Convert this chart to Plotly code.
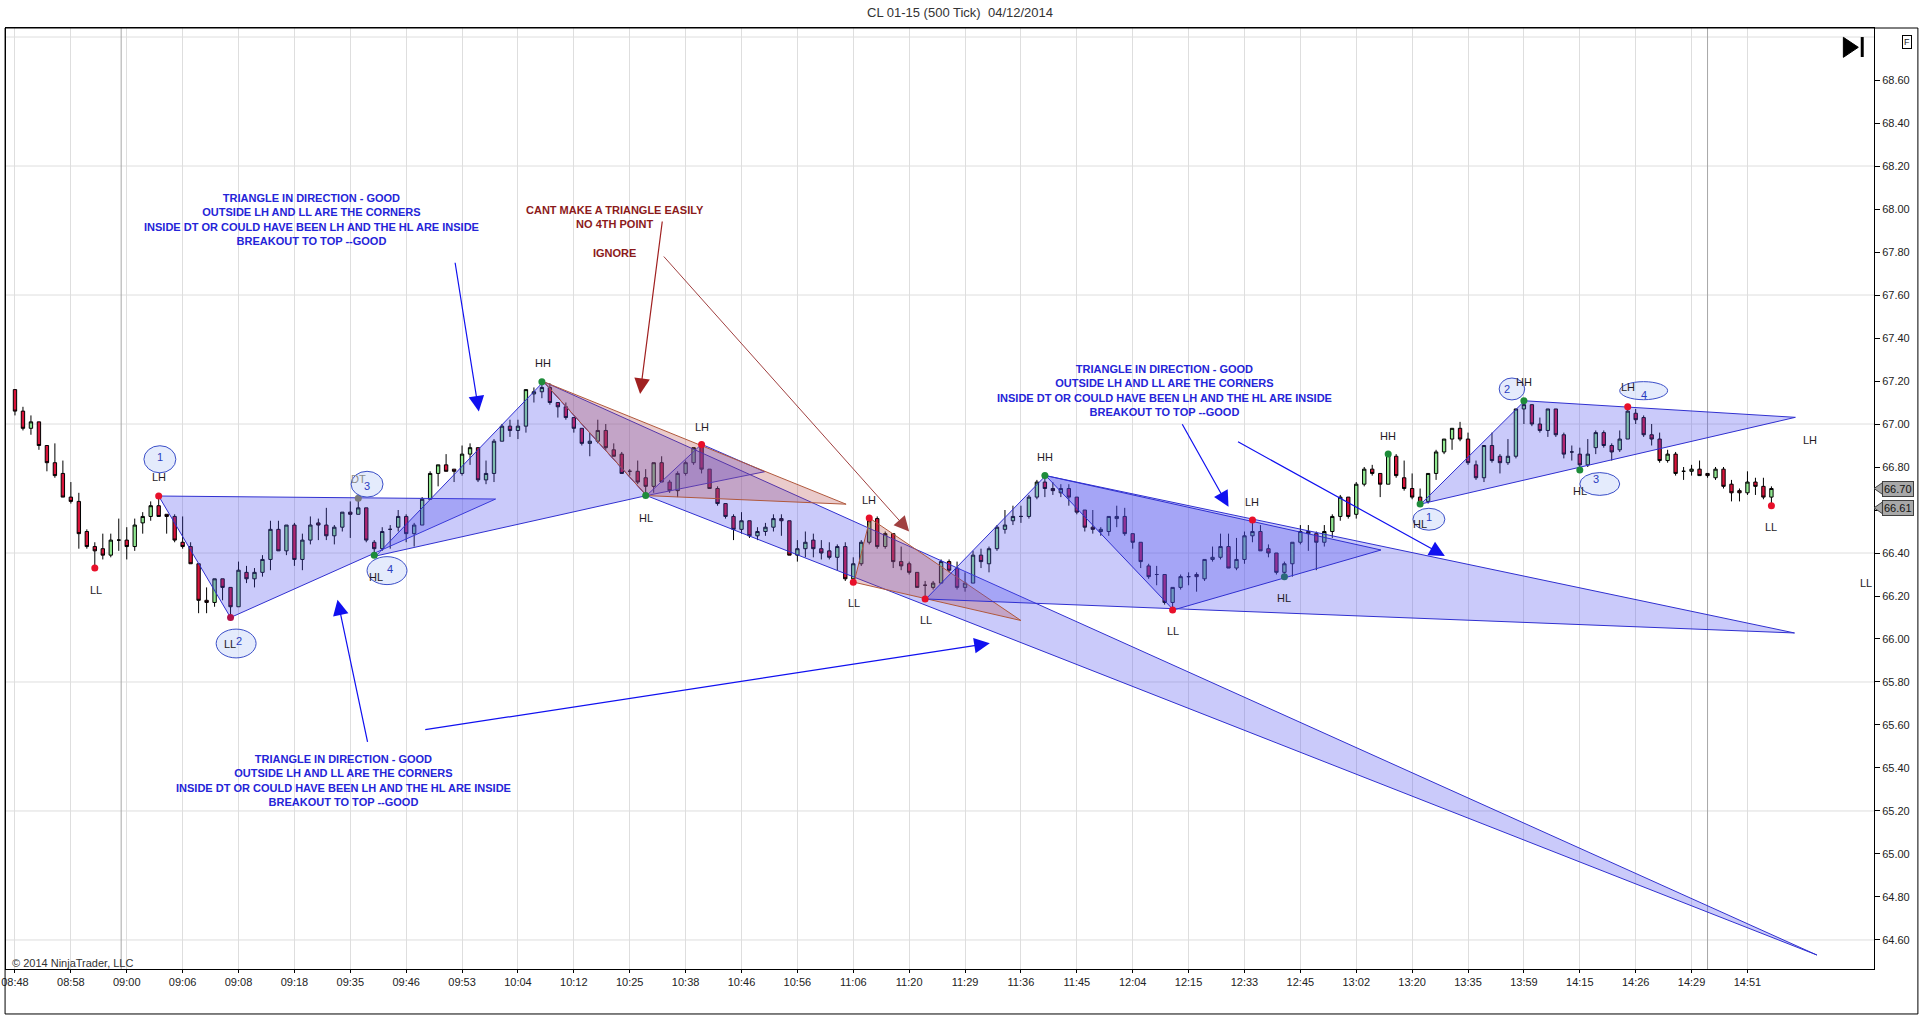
import plotly.graph_objects as go

# --- candles (500 tick bars, index 0..220) ---
OPEN = [67.16, 67.06, 66.98, 67.01, 66.90, 66.82, 66.77, 66.66, 66.64, 66.50,
        66.43, 66.42, 66.39, 66.46, 66.46, 66.43, 66.54, 66.57, 66.62, 66.58,
        66.57, 66.45, 66.43, 66.35, 66.18, 66.17, 66.28, 66.24, 66.15, 66.31,
        66.28, 66.31, 66.37, 66.51, 66.41, 66.53, 66.37, 66.46, 66.54, 66.53,
        66.48, 66.52, 66.59, 66.58, 66.61, 66.45, 66.42, 66.51, 66.52, 66.57,
        66.49, 66.53, 66.65, 66.77, 66.81, 66.79, 66.77, 66.86, 66.89, 66.74,
        66.77, 66.92, 66.99, 66.97, 66.99, 67.14, 67.15, 67.17, 67.10, 67.08,
        67.03, 66.98, 66.91, 66.92, 66.97, 66.88, 66.86, 66.78, 66.78, 66.75,
        66.71, 66.82, 66.73, 66.69, 66.77, 66.82, 66.90, 66.79, 66.70, 66.63,
        66.57, 66.51, 66.55, 66.48, 66.50, 66.52, 66.56, 66.55, 66.39, 66.42,
        66.46, 66.42, 66.41, 66.38, 66.43, 66.28, 66.35, 66.45, 66.56, 66.43,
        66.49, 66.36, 66.35, 66.31, 66.25, 66.24, 66.26, 66.36, 66.33, 66.24,
        66.26, 66.39, 66.35, 66.42, 66.51, 66.55, 66.57, 66.57, 66.66, 66.73,
        66.70, 66.68, 66.70, 66.66, 66.60, 66.52, 66.50, 66.50, 66.56, 66.57,
        66.49, 66.45, 66.34, 66.30, 66.30, 66.17, 66.24, 66.29, 66.30, 66.28,
        66.37, 66.38, 66.43, 66.33, 66.37, 66.48, 66.50, 66.42, 66.40, 66.31,
        66.35, 66.45, 66.50, 66.49, 66.45, 66.50, 66.57, 66.66, 66.58, 66.72,
        66.79, 66.77, 66.72, 66.85, 66.75, 66.70, 66.66, 66.64, 66.77, 66.87,
        66.93, 66.98, 66.93, 66.81, 66.75, 66.90, 66.85, 66.82, 66.85, 67.07,
        67.09, 67.00, 66.97, 67.07, 66.95, 66.87, 66.86, 66.81, 66.89, 66.96,
        66.90, 66.88, 66.93, 67.05, 67.03, 66.95, 66.93, 66.83, 66.86, 66.78,
        66.78, 66.79, 66.77, 66.75, 66.79, 66.72, 66.69, 66.68, 66.73, 66.71,
        66.66]
HIGH = [67.16, 67.08, 67.04, 67.01, 66.90, 66.91, 66.83, 66.73, 66.68, 66.51,
        66.45, 66.49, 66.49, 66.56, 66.52, 66.56, 66.59, 66.64, 66.67, 66.58,
        66.58, 66.57, 66.45, 66.35, 66.24, 66.28, 66.28, 66.24, 66.36, 66.34,
        66.33, 66.39, 66.55, 66.55, 66.53, 66.54, 66.49, 66.57, 66.56, 66.61,
        66.53, 66.59, 66.64, 66.66, 66.61, 66.46, 66.52, 66.53, 66.60, 66.58,
        66.54, 66.66, 66.78, 66.81, 66.86, 66.79, 66.90, 66.91, 66.89, 66.83,
        66.93, 67.00, 67.02, 67.02, 67.16, 67.17, 67.20, 67.19, 67.10, 67.10,
        67.03, 66.98, 66.96, 67.02, 67.00, 66.91, 66.87, 66.79, 66.83, 66.79,
        66.82, 66.85, 66.74, 66.78, 66.83, 66.89, 66.91, 66.79, 66.71, 66.63,
        66.58, 66.59, 66.55, 66.52, 66.54, 66.58, 66.58, 66.55, 66.46, 66.50,
        66.49, 66.46, 66.45, 66.44, 66.45, 66.38, 66.46, 66.57, 66.57, 66.50,
        66.49, 66.43, 66.36, 66.31, 66.27, 66.27, 66.37, 66.37, 66.36, 66.31,
        66.41, 66.42, 66.43, 66.53, 66.60, 66.62, 66.62, 66.67, 66.74, 66.76,
        66.73, 66.72, 66.72, 66.66, 66.60, 66.60, 66.52, 66.57, 66.62, 66.61,
        66.49, 66.45, 66.35, 66.34, 66.30, 66.24, 66.30, 66.31, 66.31, 66.37,
        66.43, 66.49, 66.49, 66.47, 66.50, 66.55, 66.53, 66.44, 66.40, 66.36,
        66.45, 66.53, 66.53, 66.50, 66.53, 66.58, 66.67, 66.66, 66.73, 66.80,
        66.81, 66.77, 66.86, 66.86, 66.83, 66.77, 66.70, 66.77, 66.88, 66.93,
        66.98, 67.01, 66.96, 66.83, 66.90, 66.96, 66.86, 66.93, 67.07, 67.11,
        67.09, 67.03, 67.07, 67.07, 66.96, 66.90, 66.89, 66.93, 66.97, 66.97,
        66.91, 66.97, 67.08, 67.07, 67.04, 67.00, 66.96, 66.88, 66.87, 66.80,
        66.81, 66.83, 66.77, 66.80, 66.80, 66.74, 66.70, 66.78, 66.75, 66.75,
        66.71]
LOW = [67.04, 66.97, 66.95, 66.88, 66.78, 66.75, 66.66, 66.63, 66.42, 66.42,
       66.33, 66.37, 66.38, 66.41, 66.37, 66.41, 66.49, 66.55, 66.57, 66.49,
       66.45, 66.42, 66.35, 66.12, 66.12, 66.15, 66.18, 66.10, 66.15, 66.26,
       66.24, 66.29, 66.32, 66.41, 66.39, 66.34, 66.32, 66.44, 66.46, 66.46,
       66.44, 66.50, 66.47, 66.58, 66.45, 66.39, 66.41, 66.42, 66.50, 66.45,
       66.43, 66.53, 66.65, 66.71, 66.78, 66.73, 66.76, 66.81, 66.73, 66.72,
       66.73, 66.92, 66.94, 66.93, 66.96, 67.10, 67.12, 67.09, 67.03, 67.02,
       66.96, 66.90, 66.85, 66.91, 66.88, 66.85, 66.77, 66.76, 66.72, 66.67,
       66.68, 66.73, 66.68, 66.66, 66.76, 66.81, 66.77, 66.70, 66.62, 66.56,
       66.46, 66.49, 66.47, 66.46, 66.48, 66.50, 66.48, 66.39, 66.36, 66.38,
       66.38, 66.37, 66.37, 66.32, 66.27, 66.26, 66.34, 66.44, 66.42, 66.42,
       66.33, 66.32, 66.30, 66.24, 66.19, 66.23, 66.26, 66.31, 66.23, 66.22,
       66.26, 66.33, 66.31, 66.41, 66.49, 66.53, 66.54, 66.56, 66.65, 66.66,
       66.67, 66.66, 66.62, 66.58, 66.50, 66.49, 66.48, 66.48, 66.52, 66.48,
       66.42, 66.33, 66.28, 66.25, 66.16, 66.14, 66.23, 66.25, 66.22, 66.27,
       66.36, 66.37, 66.33, 66.32, 66.35, 66.45, 66.41, 66.38, 66.30, 66.29,
       66.29, 66.44, 66.41, 66.32, 66.43, 66.47, 66.55, 66.56, 66.56, 66.71,
       66.76, 66.66, 66.72, 66.75, 66.69, 66.65, 66.63, 66.63, 66.74, 66.86,
       66.88, 66.92, 66.81, 66.74, 66.73, 66.82, 66.77, 66.81, 66.84, 67.00,
       66.99, 66.96, 66.94, 66.94, 66.84, 66.83, 66.79, 66.80, 66.86, 66.89,
       66.83, 66.87, 66.93, 67.00, 66.94, 66.90, 66.82, 66.82, 66.76, 66.74,
       66.76, 66.76, 66.75, 66.74, 66.70, 66.64, 66.64, 66.67, 66.67, 66.65,
       66.62]
CLOSE = [67.06, 66.98, 67.01, 66.90, 66.82, 66.76, 66.66, 66.64, 66.49, 66.43,
         66.41, 66.39, 66.46, 66.46, 66.43, 66.53, 66.57, 66.62, 66.57, 66.57,
         66.46, 66.43, 66.35, 66.18, 66.17, 66.28, 66.24, 66.15, 66.32, 66.28,
         66.31, 66.37, 66.51, 66.41, 66.53, 66.37, 66.46, 66.53, 66.53, 66.48,
         66.52, 66.59, 66.58, 66.61, 66.46, 66.42, 66.50, 66.51, 66.57, 66.49,
         66.53, 66.65, 66.77, 66.81, 66.78, 66.78, 66.86, 66.89, 66.74, 66.77,
         66.92, 66.99, 66.97, 66.99, 67.16, 67.15, 67.17, 67.10, 67.08, 67.03,
         66.98, 66.91, 66.92, 66.97, 66.89, 66.85, 66.77, 66.78, 66.73, 66.71,
         66.82, 66.73, 66.69, 66.77, 66.82, 66.89, 66.79, 66.70, 66.63, 66.57,
         66.51, 66.55, 66.48, 66.50, 66.52, 66.56, 66.55, 66.39, 66.42, 66.45,
         66.42, 66.40, 66.38, 66.43, 66.28, 66.35, 66.45, 66.55, 66.43, 66.49,
         66.36, 66.34, 66.31, 66.24, 66.25, 66.26, 66.36, 66.32, 66.24, 66.26,
         66.39, 66.36, 66.42, 66.52, 66.53, 66.57, 66.57, 66.66, 66.73, 66.70,
         66.69, 66.70, 66.66, 66.59, 66.52, 66.51, 66.51, 66.57, 66.57, 66.49,
         66.45, 66.36, 66.29, 66.30, 66.17, 66.24, 66.29, 66.29, 66.29, 66.37,
         66.38, 66.43, 66.33, 66.37, 66.48, 66.50, 66.41, 66.40, 66.31, 66.35,
         66.45, 66.50, 66.49, 66.45, 66.50, 66.57, 66.66, 66.57, 66.72, 66.79,
         66.77, 66.72, 66.86, 66.76, 66.70, 66.66, 66.63, 66.77, 66.87, 66.93,
         66.98, 66.93, 66.82, 66.75, 66.90, 66.83, 66.82, 66.85, 67.07, 67.09,
         67.00, 66.97, 67.07, 66.95, 66.86, 66.87, 66.81, 66.86, 66.96, 66.90,
         66.87, 66.93, 67.06, 67.02, 66.95, 66.93, 66.83, 66.86, 66.77, 66.78,
         66.79, 66.76, 66.76, 66.79, 66.71, 66.68, 66.68, 66.73, 66.71, 66.66,
         66.70]

TIME_LABELS = ["08:48", "08:58", "09:00", "09:06", "09:08", "09:18", "09:35", "09:46",
               "09:53", "10:04", "10:12", "10:25", "10:38", "10:46", "10:56", "11:06",
               "11:20", "11:29", "11:36", "11:45", "12:04", "12:15", "12:33", "12:45",
               "13:02", "13:20", "13:35", "13:59", "14:15", "14:26", "14:29", "14:51"]
BARS_PER_LABEL = 7
PRICE_TICKS = [64.6, 64.8, 65.0, 65.2, 65.4, 65.6, 65.8, 66.0, 66.2, 66.4, 66.6,
               66.8, 67.0, 67.2, 67.4, 67.6, 67.8, 68.0, 68.2, 68.4, 68.6]
GRID_PRICES = [64.6, 65.2, 65.8, 66.4, 67.0, 67.6, 68.2, 68.8]
SESSION_BARS = [13.3, 212.0]

# --- swing points ---
PIVOT_BARS = [10, 18, 27, 43, 45, 66, 79, 86, 105, 107, 114, 129, 145, 155, 159,
              172, 176, 189, 196, 202, 220]
PIVOT_PRICES = [66.33, 66.665, 66.10, 66.655, 66.39, 67.197, 66.667, 66.905, 66.264,
                66.563, 66.186, 66.76, 66.135, 66.553, 66.29, 66.86, 66.628, 67.108,
                66.786, 67.08, 66.62]
PIVOT_KIND = ["lo", "hi", "ll2", "dt", "up", "up", "up", "hi", "lo", "hi", "lo", "up",
              "lo", "hi", "teal", "up", "up", "up", "up", "hi", "lo"]

LABEL_TEXT = ["LL", "LH", "HL", "HH", "LH", "HL", "LH", "LL", "LL", "HH", "LL", "LH",
              "HL", "HH", "HL", "HH", "HL", "LH", "LH", "LL", "LL"]
LABEL_BARS = [10.1, 18.1, 45.2, 66.1, 86.1, 79.1, 107.0, 105.1, 114.1, 129.0, 145.0,
              155.0, 159.0, 172.0, 176.0, 189.0, 196.0, 202.0, 224.8, 220.0, 231.9]
LABEL_PRICES = [66.228, 66.755, 66.287, 67.285, 66.988, 66.564, 66.647, 66.169, 66.088,
                66.848, 66.039, 66.639, 66.189, 66.944, 66.535, 67.197, 66.69, 67.171,
                66.926, 66.522, 66.26]

# --- triangles drawn on the chart (bar, price) ---
TRIANGLES = [
    [(18.0, 66.665), (27.0, 66.10), (60.2, 66.651)],
    [(45.2, 66.386), (66.2, 67.197), (79.1, 66.667)],
    [(79.1, 66.667), (86.0, 66.906), (93.9, 66.778)],
    [(66.2, 67.197), (79.1, 66.667), (225.7, 64.53)],
    [(66.2, 67.197), (79.1, 66.667), (104.1, 66.627)],
    [(107.1, 66.561), (105.1, 66.264), (126.0, 66.086)],
    [(114.1, 66.186), (129.1, 66.76), (222.9, 66.028)],
    [(129.1, 66.76), (145.1, 66.135), (171.1, 66.414)],
    [(176.1, 66.628), (189.1, 67.108), (223.0, 67.031)],
]
TRIANGLE_KIND = ["blue", "blue", "blue", "blue", "red", "red", "blue", "blue", "blue"]

# --- arrows: tail bar, tail price, tip bar, tip price, colour ---
ARROWS = [
    (55.1, 67.757, 58.1, 67.058, "blue"),
    (81.1, 67.949, 78.3, 67.14, "red"),
    (81.1, 67.786, 112.0, 66.50, "redthin"),
    (146.1, 67.006, 152.0, 66.615, "blue"),
    (153.0, 66.921, 179.1, 66.386, "blue"),
    (44.2, 65.514, 40.4, 66.183, "blue"),
    (51.2, 65.577, 122.1, 65.98, "blue"),
]

# --- numbered ellipses: bar, price, half width (bars), half height (price) ---
ELLIPSES = [(18.15, 66.836, 2.0, 0.063), (44.1, 66.72, 2.0, 0.06),
            (46.6, 66.318, 2.5, 0.065), (27.7, 65.979, 2.5, 0.067),
            (177.1, 66.557, 2.0, 0.051), (187.5, 67.163, 1.6, 0.051),
            (198.5, 66.721, 2.5, 0.053), (204.0, 67.155, 3.0, 0.042)]
ELLIPSE_TEXT = ["1", "3", "4", "2", "1", "2", "3", "4"]
ELLIPSE_TEXT_POS = [(18.15, 66.845), (44.1, 66.71), (47.0, 66.325), (28.1, 65.99),
                    (177.1, 66.566), (186.9, 67.163), (198.0, 66.744), (204.0, 67.135)]

NOTE_GOOD = ("TRIANGLE IN DIRECTION - GOOD<br>OUTSIDE LH AND LL ARE THE CORNERS<br>"
             "INSIDE DT OR COULD HAVE BEEN LH AND THE HL ARE INSIDE<br>BREAKOUT TO TOP --GOOD")
NOTE_BAD = "CANT MAKE A TRIANGLE EASILY<br>NO 4TH POINT<br><br>IGNORE"
NOTES = [(NOTE_GOOD, 37.1, 67.951, "#2424d8"), (NOTE_BAD, 75.2, 67.894, "#8b1a1a"),
         (NOTE_GOOD, 144.0, 67.158, "#2424d8"), (NOTE_GOOD, 41.1, 65.342, "#2424d8")]

FONT = "Liberation Sans, Arial, sans-serif"
X_RANGE = [-1.124, 232.85]
Y_RANGE = [64.465, 68.842]

fig = go.Figure()

fig.add_trace(go.Candlestick(
    x=list(range(len(OPEN))), open=OPEN, high=HIGH, low=LOW, close=CLOSE,
    increasing=dict(fillcolor="#90e890", line=dict(color="black", width=1)),
    decreasing=dict(fillcolor="#d8143a", line=dict(color="black", width=1)),
    whiskerwidth=0, showlegend=False, hoverinfo="skip",
))

tri_style = {
    "blue": dict(fill="rgba(80,80,240,0.30)", line="#3030d0"),
    "red": dict(fill="rgba(180,70,70,0.28)", line="#b0583c"),
}
for pts, kind in zip(TRIANGLES, TRIANGLE_KIND):
    xs = [p[0] for p in pts] + [pts[0][0]]
    ys = [p[1] for p in pts] + [pts[0][1]]
    st = tri_style[kind]
    fig.add_trace(go.Scatter(x=xs, y=ys, mode="lines", fill="toself",
                             fillcolor=st["fill"], line=dict(color=st["line"], width=1),
                             showlegend=False, hoverinfo="skip"))

dot_color = {"lo": "#e8102a", "hi": "#e8102a", "ll2": "#b0104a", "dt": "#7a7a7a",
             "up": "#1e8c3a", "teal": "#2a6a7a"}
fig.add_trace(go.Scatter(
    x=PIVOT_BARS, y=PIVOT_PRICES, mode="markers",
    marker=dict(size=7, color=[dot_color[k] for k in PIVOT_KIND]),
    showlegend=False, hoverinfo="skip",
))

# pivot labels
for t, bx, py in zip(LABEL_TEXT, LABEL_BARS, LABEL_PRICES):
    fig.add_annotation(x=bx, y=py, text=t, showarrow=False,
                       font=dict(family=FONT, size=11, color="#241a24"))
fig.add_annotation(x=43.0, y=66.743, text="DT", showarrow=False,
                   font=dict(family=FONT, size=11, color="#8a8a8a"))
fig.add_annotation(x=26.9, y=65.979, text="LL", showarrow=False,
                   font=dict(family=FONT, size=11, color="#241a24"))

# ellipses with numbers
for (bx, py, hw, hh), t, (tx, ty) in zip(ELLIPSES, ELLIPSE_TEXT, ELLIPSE_TEXT_POS):
    fig.add_shape(type="circle", xref="x", yref="y", x0=bx - hw, x1=bx + hw,
                  y0=py - hh, y1=py + hh, layer="above",
                  fillcolor="rgba(205,218,250,0.55)", line=dict(color="#3a4ec8", width=1))
    fig.add_annotation(x=tx, y=ty, text=t, showarrow=False,
                       font=dict(family=FONT, size=11, color="#2a3cc0"))

# notes
for txt, bx, py, col in NOTES:
    fig.add_annotation(x=bx, y=py, text=f"<b>{txt}</b>", showarrow=False, align="center",
                       font=dict(family=FONT, size=11, color=col))

# arrows
arrow_style = {"blue": ("#1010f0", 1.2, 2.6), "red": ("#a02020", 1.2, 2.6),
               "redthin": ("#a04040", 1.0, 3.0)}
for tx, ty, hx, hy, kind in ARROWS:
    col, w, size = arrow_style[kind]
    fig.add_annotation(x=hx, y=hy, ax=tx, ay=ty, xref="x", yref="y", axref="x", ayref="y",
                       text="", showarrow=True, arrowhead=2, arrowsize=size,
                       arrowwidth=w, arrowcolor=col, standoff=0)

# horizontal grid every 0.6 and session separators
for gp in GRID_PRICES:
    fig.add_shape(type="line", xref="paper", yref="y", x0=0, x1=1, y0=gp, y1=gp,
                  layer="below", line=dict(color="#dedede", width=1))
for sb in SESSION_BARS:
    fig.add_shape(type="line", xref="x", yref="paper", x0=sb, x1=sb, y0=0, y1=1,
                  layer="below", line=dict(color="#a8a8a8", width=1))

# last price markers on the axis
for val in [66.70, 66.61]:
    fig.add_shape(type="path", xref="paper", yref="y", layer="above",
                  path=f"M 1.0,{val} L 1.0045,{val + 0.027} L 1.0045,{val - 0.027} Z",
                  fillcolor="#a8a8a8", line=dict(color="#404040", width=1))
    fig.add_annotation(x=1.0045, y=val, xref="paper", yref="y", xanchor="left",
                       text=f"{val:.2f}", showarrow=False, bgcolor="#a8a8a8",
                       bordercolor="#404040", borderwidth=1, borderpad=1,
                       font=dict(family=FONT, size=11, color="#111"))

# outer frame, go-to-end button, F box, copyright
fig.add_shape(type="rect", xref="paper", yref="paper", x0=-0.0005, x1=1.0235,
              y0=-0.0478, y1=1.0, line=dict(color="black", width=1), layer="above")
fig.add_shape(type="path", xref="paper", yref="paper", layer="above",
              path="M 0.9836,0.9901 L 0.9836,0.9688 L 0.9916,0.9795 Z",
              fillcolor="black", line=dict(color="black", width=1))
fig.add_shape(type="rect", xref="paper", yref="paper", layer="above",
              x0=0.9929, x1=0.9945, y0=0.9692, y1=0.9904,
              fillcolor="black", line=dict(color="black", width=0))
fig.add_annotation(x=1.0203, y=0.9926, xref="paper", yref="paper", text="F",
                   showarrow=False, bgcolor="white", bordercolor="black", borderwidth=1,
                   borderpad=1, font=dict(family=FONT, size=9, color="#222"))
fig.add_annotation(x=0.002, y=0.0064, xref="paper", yref="paper", xanchor="left",
                   yanchor="middle", text="© 2014 NinjaTrader, LLC", showarrow=False,
                   font=dict(family=FONT, size=11, color="#333"))

fig.update_layout(
    width=1920, height=1015, autosize=False,
    margin=dict(l=1, r=46, t=28, b=46),
    paper_bgcolor="white", plot_bgcolor="white",
    boxgap=0.4, showlegend=False,
    title=dict(text="CL 01-15 (500 Tick) \u00a004/12/2014", x=0.5, xref="container",
               y=0.988, yanchor="middle", font=dict(family=FONT, size=13, color="#333")),
    font=dict(family=FONT, size=11, color="#222"),
    xaxis=dict(range=X_RANGE, rangeslider=dict(visible=False),
               tickvals=[i * BARS_PER_LABEL for i in range(len(TIME_LABELS))],
               ticktext=TIME_LABELS, showgrid=True, gridcolor="#dedede", gridwidth=1,
               zeroline=False, showline=True, linecolor="black", linewidth=1, mirror=True,
               ticks="outside", ticklen=3, tickcolor="black", ticklabeloverflow="allow",
               tickfont=dict(family=FONT, size=11, color="#222")),
    yaxis=dict(range=Y_RANGE, side="right", tickvals=PRICE_TICKS,
               ticktext=[f"{p:.2f}" for p in PRICE_TICKS], showgrid=False,
               zeroline=False, showline=True, linecolor="black", linewidth=1, mirror=True,
               ticks="outside", ticklen=5, tickcolor="black", ticklabeloverflow="allow",
               tickfont=dict(family=FONT, size=11, color="#222")),
)

# the page body has a default 8px margin; remove it so the figure sits at 0,0
fig.write_html("out.html", config={"displayModeBar": False},
               post_script="document.body.style.margin='0';document.body.style.padding='0';")
